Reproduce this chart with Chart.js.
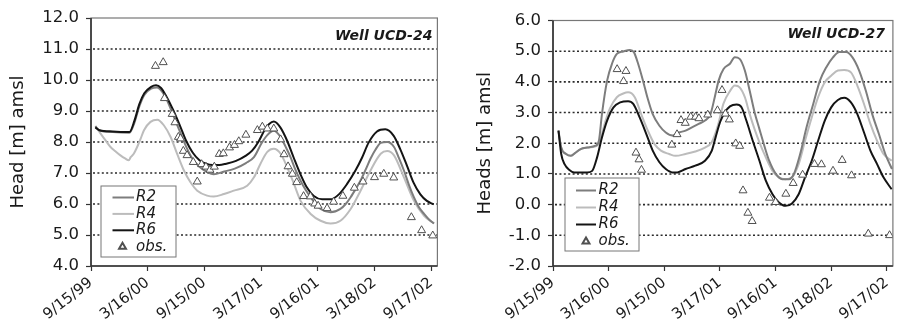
<!DOCTYPE html>
<html>
<head>
<meta charset="utf-8">
<script src="https://cdn.jsdelivr.net/npm/chart.js@4.4.1/dist/chart.umd.min.js"></script>
<style>
  html, body { margin: 0; padding: 0; background: #fff; overflow: hidden; }
  #wrap { position: relative; width: 899px; height: 326px; overflow: hidden; }
  canvas { position: absolute; top: 0; }
  #c24 { left: 0; }
  #c27 { left: 449px; }
</style>
</head>
<body>
<div id="wrap">
  <canvas id="c24" width="449" height="326"></canvas>
  <canvas id="c27" width="452" height="326"></canvas>
</div>
<script>
// x axis: days since 9/15/99, ticks every 183 days
const tickDays = [0, 183, 366, 549, 732, 915, 1098];
const tickLabels = ['9/15/99', '3/16/00', '9/15/00', '3/17/01', '9/16/01', '3/18/02', '9/17/02'];

// Well UCD-24
const r2Days24 = [14, 27, 70, 124, 140, 156, 172, 194, 213, 230, 245, 264, 285, 307, 328, 350, 371, 396, 430, 464, 500, 526, 550, 569, 590, 612, 628, 644, 660, 676, 693, 709, 725, 741, 773, 805, 822, 838, 854, 870, 886, 902, 918, 935, 956, 978, 994, 1010, 1026, 1042, 1058, 1075, 1091, 1107];
const r2Head24 = [8.50, 8.38, 8.32, 8.30, 8.62, 9.15, 9.52, 9.72, 9.76, 9.62, 9.35, 8.90, 8.38, 7.85, 7.45, 7.20, 7.05, 6.96, 7.05, 7.14, 7.32, 7.51, 7.95, 8.22, 8.36, 8.16, 7.85, 7.51, 7.10, 6.76, 6.45, 6.22, 6.00, 5.84, 5.73, 5.84, 6.00, 6.22, 6.48, 6.76, 7.10, 7.46, 7.75, 7.97, 8.00, 7.84, 7.48, 7.08, 6.62, 6.22, 5.90, 5.68, 5.50, 5.37];
const r4Days24 = [14, 31, 47, 63, 79, 95, 110, 122, 128, 138, 149, 160, 171, 192, 214, 235, 257, 278, 300, 321, 343, 375, 396, 429, 461, 504, 526, 547, 569, 590, 612, 633, 655, 676, 709, 741, 773, 805, 838, 870, 902, 935, 956, 978, 1010, 1042, 1075, 1107];
const r4Head24 = [8.52, 8.27, 8.05, 7.84, 7.70, 7.57, 7.47, 7.41, 7.51, 7.62, 7.84, 8.10, 8.38, 8.65, 8.72, 8.54, 8.16, 7.62, 7.08, 6.70, 6.43, 6.27, 6.24, 6.32, 6.43, 6.59, 6.86, 7.30, 7.68, 7.78, 7.62, 7.19, 6.65, 6.11, 5.68, 5.46, 5.37, 5.46, 5.84, 6.43, 7.08, 7.62, 7.71, 7.57, 6.86, 6.11, 5.62, 5.37];
const r6Days24 = [14, 27, 70, 124, 140, 156, 172, 194, 210, 226, 242, 264, 285, 307, 328, 350, 371, 393, 414, 436, 468, 500, 520, 540, 560, 575, 590, 611, 633, 654, 676, 697, 719, 746, 773, 800, 826, 853, 875, 896, 923, 950, 977, 998, 1020, 1041, 1063, 1084, 1106];
const r6Head24 = [8.47, 8.38, 8.34, 8.32, 8.68, 9.22, 9.57, 9.78, 9.83, 9.74, 9.49, 9.06, 8.58, 8.04, 7.66, 7.41, 7.30, 7.26, 7.26, 7.30, 7.39, 7.56, 7.72, 8.00, 8.38, 8.58, 8.66, 8.47, 8.04, 7.50, 6.96, 6.53, 6.26, 6.15, 6.15, 6.31, 6.64, 7.07, 7.50, 7.98, 8.34, 8.41, 8.20, 7.77, 7.23, 6.69, 6.31, 6.10, 5.99];
const obsDays24 = [208, 233, 237, 262, 271, 282, 289, 298, 310, 330, 343, 357, 371, 384, 398, 414, 427, 447, 463, 477, 500, 537, 553, 569, 590, 612, 623, 636, 650, 664, 686, 708, 722, 733, 762, 783, 813, 850, 878, 915, 945, 977, 1034, 1067, 1103];
const obsHead24 = [10.45, 10.57, 9.41, 8.90, 8.63, 8.16, 8.11, 7.71, 7.57, 7.35, 6.72, 7.28, 7.20, 7.10, 7.20, 7.61, 7.63, 7.82, 7.90, 8.02, 8.23, 8.38, 8.49, 8.43, 8.43, 8.08, 7.60, 7.21, 6.97, 6.70, 6.25, 6.24, 6.01, 5.94, 5.86, 6.07, 6.26, 6.52, 6.72, 6.86, 6.97, 6.85, 5.57, 5.15, 4.98];

// Well UCD-27
const r2Days27 = [18, 27, 43, 59, 75, 91, 113, 140, 151, 161, 178, 194, 210, 231, 253, 266, 280, 296, 312, 328, 350, 371, 393, 414, 436, 457, 479, 500, 518, 532, 545, 561, 582, 598, 614, 631, 647, 663, 679, 695, 711, 733, 754, 776, 792, 813, 834, 856, 878, 899, 921, 942, 964, 985, 1007, 1029, 1050, 1072, 1093, 1115];
const r2Head27 = [2.41, 1.86, 1.65, 1.59, 1.70, 1.81, 1.86, 1.92, 2.08, 2.95, 4.04, 4.59, 4.91, 4.99, 5.04, 4.97, 4.59, 4.04, 3.44, 2.95, 2.57, 2.35, 2.25, 2.35, 2.41, 2.52, 2.63, 2.74, 2.95, 3.50, 4.05, 4.42, 4.59, 4.80, 4.75, 4.37, 3.71, 3.01, 2.46, 1.92, 1.43, 1.00, 0.83, 0.83, 0.99, 1.65, 2.52, 3.28, 4.04, 4.48, 4.80, 4.97, 4.97, 4.80, 4.37, 3.71, 2.95, 2.30, 1.65, 1.16];
const r4Days27 = [18, 27, 43, 59, 75, 91, 113, 140, 151, 161, 172, 188, 210, 231, 247, 269, 290, 312, 334, 355, 382, 403, 436, 468, 500, 522, 543, 561, 582, 598, 614, 631, 647, 663, 679, 700, 722, 743, 765, 786, 808, 829, 851, 872, 894, 915, 937, 958, 980, 1001, 1023, 1044, 1066, 1087, 1114];
const r4Head27 = [2.41, 1.86, 1.65, 1.59, 1.70, 1.81, 1.86, 1.90, 1.98, 2.30, 2.70, 3.15, 3.50, 3.62, 3.66, 3.50, 2.95, 2.41, 1.97, 1.76, 1.65, 1.59, 1.65, 1.73, 1.86, 2.03, 2.60, 3.30, 3.70, 3.88, 3.82, 3.50, 2.95, 2.46, 2.03, 1.54, 1.10, 0.89, 0.83, 0.89, 1.32, 2.08, 2.84, 3.50, 3.99, 4.20, 4.37, 4.39, 4.31, 3.88, 3.28, 2.63, 2.08, 1.65, 1.43];
const r6Days27 = [18, 27, 38, 54, 70, 91, 113, 129, 145, 161, 178, 199, 221, 247, 264, 285, 307, 328, 350, 371, 393, 409, 436, 468, 500, 522, 535, 550, 565, 582, 604, 620, 636, 657, 679, 700, 722, 743, 765, 786, 808, 829, 851, 872, 894, 915, 937, 958, 980, 1001, 1023, 1044, 1066, 1087, 1114];
const r6Head27 = [2.41, 1.65, 1.32, 1.13, 1.05, 1.05, 1.05, 1.10, 1.54, 2.19, 2.74, 3.17, 3.33, 3.37, 3.28, 2.84, 2.30, 1.76, 1.38, 1.16, 1.05, 1.05, 1.16, 1.27, 1.43, 1.75, 2.20, 2.70, 3.00, 3.20, 3.26, 3.17, 2.74, 2.08, 1.43, 0.78, 0.34, 0.07, -0.04, 0.04, 0.34, 0.89, 1.43, 2.08, 2.74, 3.17, 3.41, 3.48, 3.33, 2.95, 2.35, 1.76, 1.32, 0.89, 0.50];
const obsDays27 = [211, 232, 240, 273, 283, 291, 391, 408, 421, 435, 453, 469, 480, 509, 541, 556, 567, 580, 601, 614, 625, 641, 655, 712, 732, 766, 790, 821, 860, 883, 921, 951, 982, 1037, 1107];
const obsHead27 = [4.41, 4.02, 4.35, 1.69, 1.47, 1.13, 1.95, 2.29, 2.75, 2.66, 2.86, 2.86, 2.81, 2.93, 3.07, 3.73, 2.96, 2.77, 1.99, 1.91, 0.46, -0.27, -0.54, 0.22, 0.08, 0.35, 0.70, 0.97, 1.32, 1.31, 1.10, 1.45, 0.95, -0.95, -1.00];

Chart.defaults.font.family = '"DejaVu Sans", sans-serif';
Chart.defaults.color = '#1a1a1a';

function pts(days, vals) {
  return days.map((d, i) => ({ x: d, y: vals[i] }));
}

// dotted grid, plot frame, axes, well name and the boxed legend inside the plot
const framePlugin = {
  id: 'frame',
  beforeDatasetsDraw(chart) {
    const { ctx, chartArea: a, scales: { y } } = chart;
    ctx.save();
    ctx.strokeStyle = '#2a2a2a';
    ctx.lineWidth = 1.6;
    ctx.setLineDash([2, 2.4]);
    y.ticks.forEach(t => {
      if (t.value <= y.min || t.value >= y.max) return;
      const py = y.getPixelForValue(t.value);
      ctx.beginPath();
      ctx.moveTo(a.left + 2, py);
      ctx.lineTo(a.right, py);
      ctx.stroke();
    });
    ctx.restore();
  },
  afterDatasetsDraw(chart, args, o) {
    const { ctx, chartArea: a } = chart;
    ctx.save();
    ctx.setLineDash([]);
    ctx.strokeStyle = '#777';
    ctx.lineWidth = 1.2;
    ctx.strokeRect(a.left, a.top, a.right - a.left, a.bottom - a.top);
    ctx.strokeStyle = '#333';
    ctx.lineWidth = 1.6;
    ctx.beginPath();
    ctx.moveTo(a.left, a.top);
    ctx.lineTo(a.left, a.bottom);
    ctx.lineTo(a.right, a.bottom);
    ctx.stroke();

    ctx.fillStyle = '#1a1a1a';
    ctx.font = 'italic bold 14px "DejaVu Sans"';
    ctx.textAlign = 'right';
    ctx.textBaseline = 'middle';
    ctx.fillText(o.well, a.right - o.wellDx, a.top + o.wellDy);

    const bx = a.left + o.boxDx, by = a.bottom - o.boxDy;
    ctx.fillStyle = '#fff';
    ctx.fillRect(bx, by, o.boxW, o.boxH);
    ctx.strokeStyle = '#777';
    ctx.lineWidth = 1;
    ctx.strokeRect(bx, by, o.boxW, o.boxH);
    ctx.font = 'italic 15px "DejaVu Sans"';
    ctx.textAlign = 'left';
    chart.data.datasets.forEach((ds, i) => {
      const y = by + o.row0 + i * o.rowGap;
      if (ds.showLine === false) {
        ctx.strokeStyle = ds.pointBorderColor;
        ctx.fillStyle = ds.pointBackgroundColor;
        Chart.helpers.drawPoint(ctx, { pointStyle: 'triangle', radius: 4, borderWidth: 1, rotation: 0 }, bx + o.markX, y);
      } else {
        ctx.strokeStyle = ds.borderColor;
        ctx.lineWidth = ds.borderWidth;
        ctx.beginPath();
        ctx.moveTo(bx + o.lineX0, y);
        ctx.lineTo(bx + o.lineX1, y);
        ctx.stroke();
      }
      ctx.fillStyle = '#1a1a1a';
      ctx.fillText(ds.label, bx + o.textX, y);
    });
    ctx.restore();
  }
};

function makeChart(id, s) {
  return new Chart(document.getElementById(id), {
    type: 'line',
    data: {
      datasets: [
        { label: 'R2', data: pts(s.r2Days, s.r2), borderColor: '#7d7d7d', borderWidth: 2, pointRadius: 0, order: 2 },
        { label: 'R4', data: pts(s.r4Days, s.r4), borderColor: '#bcbcbc', borderWidth: 2, pointRadius: 0, order: 3 },
        { label: 'R6', data: pts(s.r6Days, s.r6), borderColor: '#141414', borderWidth: 2, pointRadius: 0, order: 1 },
        {
          label: 'obs.', data: pts(s.obsDays, s.obs), showLine: false,
          pointStyle: 'triangle', pointRadius: 4.6, pointBorderWidth: 1,
          pointBorderColor: '#505050', pointBackgroundColor: '#fff', order: 0
        }
      ]
    },
    options: {
      responsive: false,
      animation: false,
      devicePixelRatio: 1,
      elements: { line: { cubicInterpolationMode: 'monotone', fill: false } },
      layout: { padding: s.pad },
      scales: {
        x: {
          type: 'linear',
          min: 0,
          max: 1118,
          afterBuildTicks: sc => { sc.ticks = tickDays.map(v => ({ value: v })); },
          afterFit: sc => { sc.height = 60; },
          grid: { drawOnChartArea: false, drawTicks: true, tickLength: 5, tickColor: '#333', tickWidth: 1.2 },
          border: { display: false },
          ticks: {
            autoSkip: false,
            minRotation: 38,
            maxRotation: 38,
            padding: 3,
            font: { size: 15 },
            callback: (v, i) => tickLabels[i]
          }
        },
        y: {
          min: s.yMin,
          max: s.yMax,
          afterFit: sc => { sc.width = s.yWidth; },
          grid: { drawOnChartArea: false, drawTicks: true, tickLength: 5, tickColor: '#333', tickWidth: 1.2 },
          border: { display: false },
          ticks: { stepSize: 1, padding: 7, font: { size: 16.5 }, callback: v => v.toFixed(1) },
          title: { display: true, text: s.yTitle, font: { size: 18 }, padding: { top: s.titlePad, bottom: 0 } }
        }
      },
      plugins: {
        legend: { display: false },
        tooltip: { enabled: false },
        frame: s.frame
      }
    },
    plugins: [framePlugin]
  });
}

makeChart('c24', {
  r2Days: r2Days24, r2: r2Head24, r4Days: r4Days24, r4: r4Head24,
  r6Days: r6Days24, r6: r6Head24, obsDays: obsDays24, obs: obsHead24,
  yMin: 4, yMax: 12, yTitle: 'Head [m] amsl', titlePad: 8, yWidth: 91,
  pad: { top: 18, right: 11.6, bottom: 0, left: 0 },
  frame: { well: 'Well UCD-24', wellDx: 5, wellDy: 18, boxDx: 10, boxDy: 80, boxW: 75, boxH: 71,
           row0: 11.5, rowGap: 16.4, lineX0: 11.5, lineX1: 33, markX: 21.5, textX: 35 }
});

makeChart('c27', {
  r2Days: r2Days27, r2: r2Head27, r4Days: r4Days27, r4: r4Head27,
  r6Days: r6Days27, r6: r6Head27, obsDays: obsDays27, obs: obsHead27,
  yMin: -2, yMax: 6, yTitle: 'Heads [m] amsl', titlePad: 26, yWidth: 104,
  pad: { top: 20.5, right: 1.6, bottom: 0, left: 0 },
  frame: { well: 'Well UCD-27', wellDx: 8, wellDy: 14, boxDx: 12, boxDy: 88, boxW: 74, boxH: 73,
           row0: 12.5, rowGap: 17, lineX0: 11, lineX1: 31, markX: 21, textX: 33.5 }
});
</script>
</body>
</html>
